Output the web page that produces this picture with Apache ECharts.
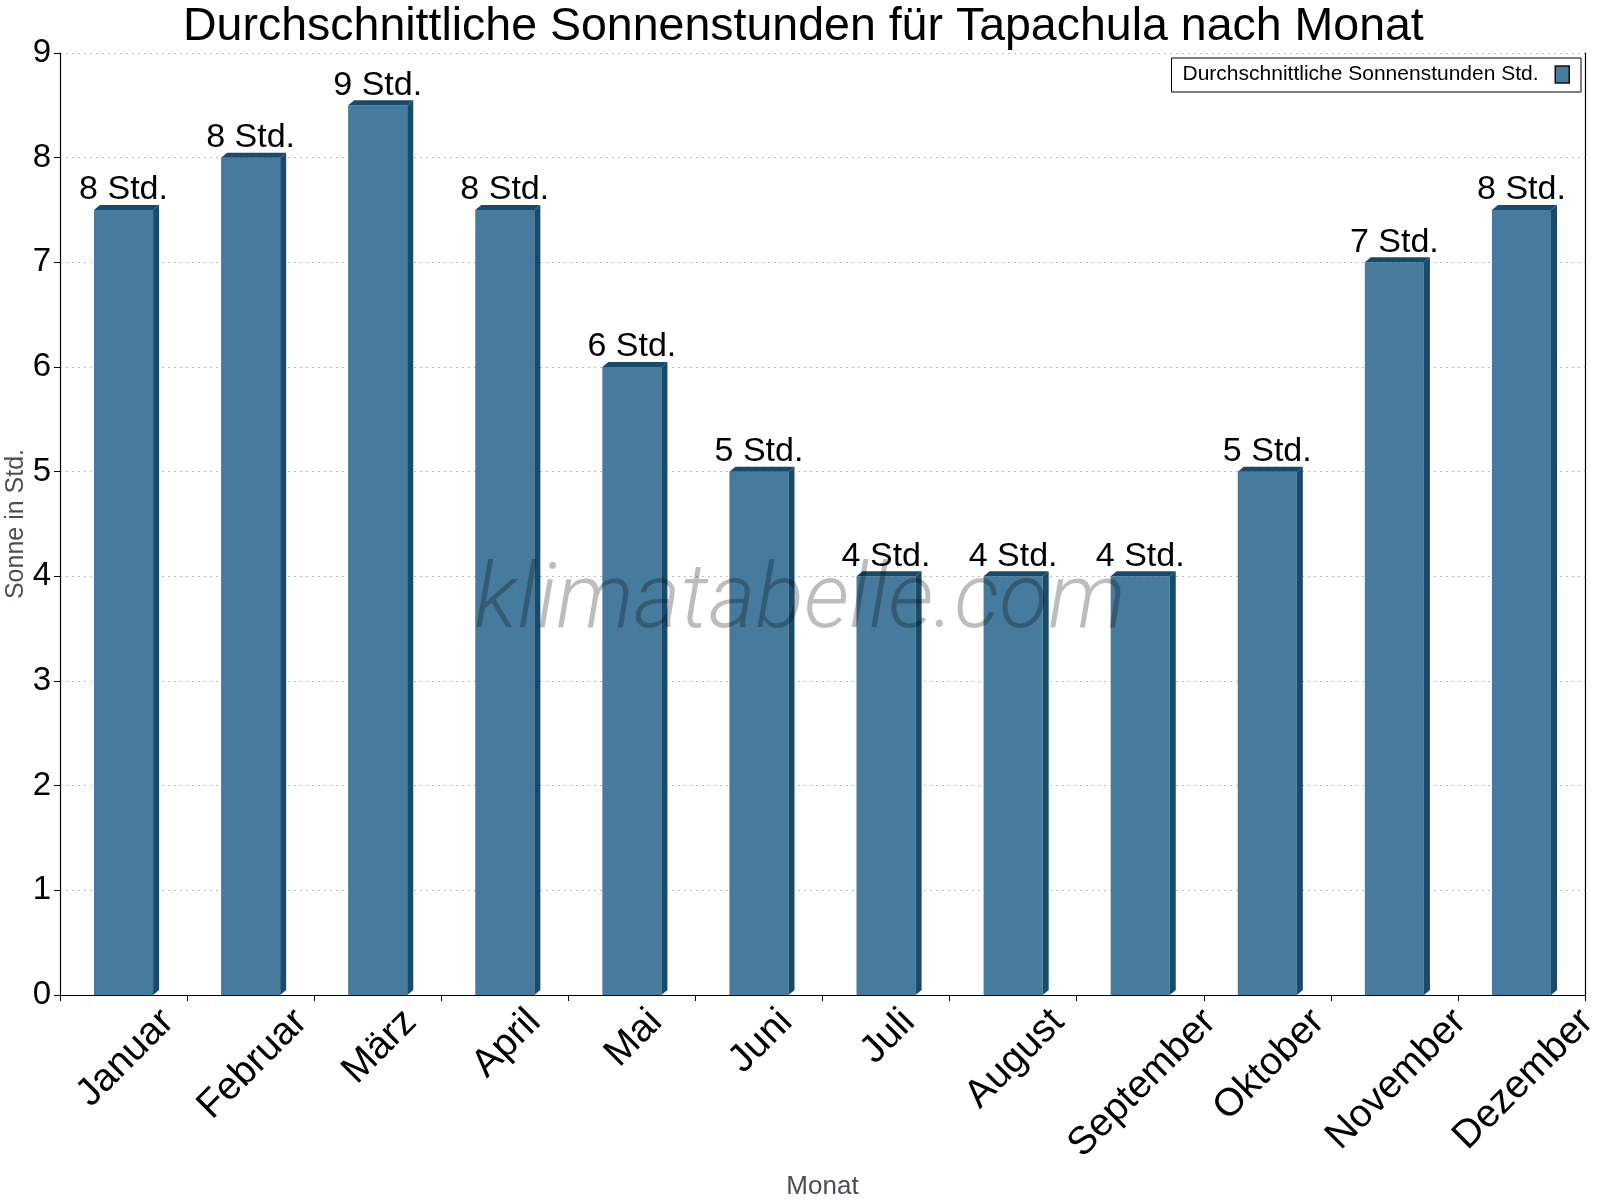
<!DOCTYPE html>
<html>
<head>
<meta charset="utf-8">
<script src="https://cdn.jsdelivr.net/npm/echarts@6/dist/echarts.min.js"></script>
<style>html,body{margin:0;padding:0;background:#fff}#c{width:1600px;height:1200px}</style>
</head>
<body>
<div id="c"></div>
<script>
const TITLE = 'Durchschnittliche Sonnenstunden für Tapachula nach Monat';
const SERIES_NAME = 'Durchschnittliche Sonnenstunden Std.';
const months = ['Januar','Februar','März','April','Mai','Juni','Juli','August','September','Oktober','November','Dezember'];
const sunHours = [7.5, 8, 8.5, 7.5, 6, 5, 4, 4, 4, 5, 7, 7.5];
const valueLabels = ['8 Std.','8 Std.','9 Std.','8 Std.','6 Std.','5 Std.','4 Std.','4 Std.','4 Std.','5 Std.','7 Std.','8 Std.'];
const yTicks = [0,1,2,3,4,5,6,7,8,9];

const FONT = '"Liberation Sans", Arial, Helvetica, sans-serif';
const FACE = '#467b9d';
const DARK = '#174a6b';
const MONTH_FONT = '39px ' + FONT;
const LABEL_FONT = '34px ' + FONT;

const mctx = document.createElement('canvas').getContext('2d');
mctx.font = MONTH_FONT;
const monthWidths = months.map(m => mctx.measureText(m).width);

const chart = echarts.init(document.getElementById('c'));
chart.setOption({
  animation: false,
  backgroundColor: '#fff',
  title: {
    text: TITLE, left: 178, top: -1,
    textStyle: {fontFamily: FONT, fontSize: 46.5, fontWeight: 'normal', color: '#000'}
  },
  legend: {
    right: 19, top: 58,
    data: [{name: SERIES_NAME, icon: 'rect', itemStyle: {color: FACE, borderColor: '#111', borderWidth: 1.5}}],
    align: 'right',
    itemWidth: 14, itemHeight: 17,
    formatter: n => n + '  ',
    padding: [6, 11, 7, 11],
    borderColor: '#000', borderWidth: 1, backgroundColor: '#fff',
    textStyle: {fontFamily: FONT, fontSize: 21, color: '#000'}
  },
  grid: {left: 60, right: 15, top: 53, bottom: 205, containLabel: false, outerBoundsMode: 'none'},
  xAxis: {
    type: 'category', data: months,
    boundaryGap: true,
    name: 'Monat', nameLocation: 'middle', nameGap: 179, nameMoveOverlap: false,
    nameTextStyle: {fontFamily: FONT, fontSize: 26, color: '#4a4f55'},
    axisLine: {lineStyle: {color: '#000', width: 1.2}},
    axisTick: {show: true, length: 6, lineStyle: {color: '#000'}},
    axisLabel: {show: false},
    splitLine: {show: false}
  },
  yAxis: [{
    type: 'value', min: 0, max: 9, interval: 1,
    name: 'Sonne in Std.', nameLocation: 'middle', nameGap: 31, nameMoveOverlap: false,
    nameTextStyle: {fontFamily: FONT, fontSize: 25, color: '#4a4f55'},
    axisLine: {show: true, lineStyle: {color: '#000', width: 1.2}},
    axisTick: {show: true, length: 6, lineStyle: {color: '#000'}},
    axisLabel: {
      margin: 9, fontFamily: FONT, fontSize: 33, color: '#000',
      formatter: v => yTicks.includes(v) ? String(v) : ''
    },
    splitLine: {show: true, lineStyle: {color: '#bdbdbd', type: [2, 4], width: 1}}
  }, {
    type: 'value', min: 0, max: 9, interval: 1, position: 'right',
    axisLine: {show: true, lineStyle: {color: '#000', width: 1.2}},
    axisTick: {show: false}, axisLabel: {show: false}, splitLine: {show: false}
  }],
  graphic: [{
    type: 'text', z: 50, silent: true,
    style: {
      text: 'klimatabelle.com', x: 800, y: 604,
      align: 'center', verticalAlign: 'middle',
      font: 'italic 300 90px Roboto, "Open Sans", sans-serif',
      fill: 'rgba(0,0,0,0.26)'
    }
  }],
  series: [{
    type: 'custom', name: SERIES_NAME,
    itemStyle: {color: FACE},
    clip: false,
    encode: {x: 0, y: 1},
    data: sunHours.map((v, i) => [i, v]),
    renderItem: function (params, api) {
      const i = api.value(0), v = api.value(1);
      const base = api.coord([i, 0]);
      const top = api.coord([i, v]);
      const band = api.size([1, 0])[0];
      const w = band * 0.465, dx = 6, dy = 5;
      const cx = top[0];
      const x0 = cx - w / 2, x1 = cx + w / 2, yt = top[1], yb = base[1];
      const L = monthWidths[i];
      return {
        type: 'group',
        children: [
          {type: 'rect', shape: {x: x0, y: yt, width: w, height: yb - yt}, style: {fill: FACE}},
          {type: 'polygon', shape: {points: [[x0, yt], [x0 + dx, yt - dy], [x1 + dx, yt - dy], [x1, yt]]}, style: {fill: DARK}},
          {type: 'polygon', shape: {points: [[x1, yt], [x1 + dx, yt - dy], [x1 + dx, yb - dy], [x1, yb]]}, style: {fill: DARK}},
          {type: 'text', x: cx, y: yt - dy + 2, z2: 10,
            style: {text: valueLabels[i], font: LABEL_FONT, fill: '#000', align: 'center', verticalAlign: 'bottom'}},
          {type: 'text', x: cx + 0.354 * L + 2, y: yb + 21, rotation: Math.PI / 4,
            style: {text: months[i], font: MONTH_FONT, fill: '#000', align: 'right', verticalAlign: 'middle'}}
        ]
      };
    }
  }]
});
</script>
</body>
</html>
